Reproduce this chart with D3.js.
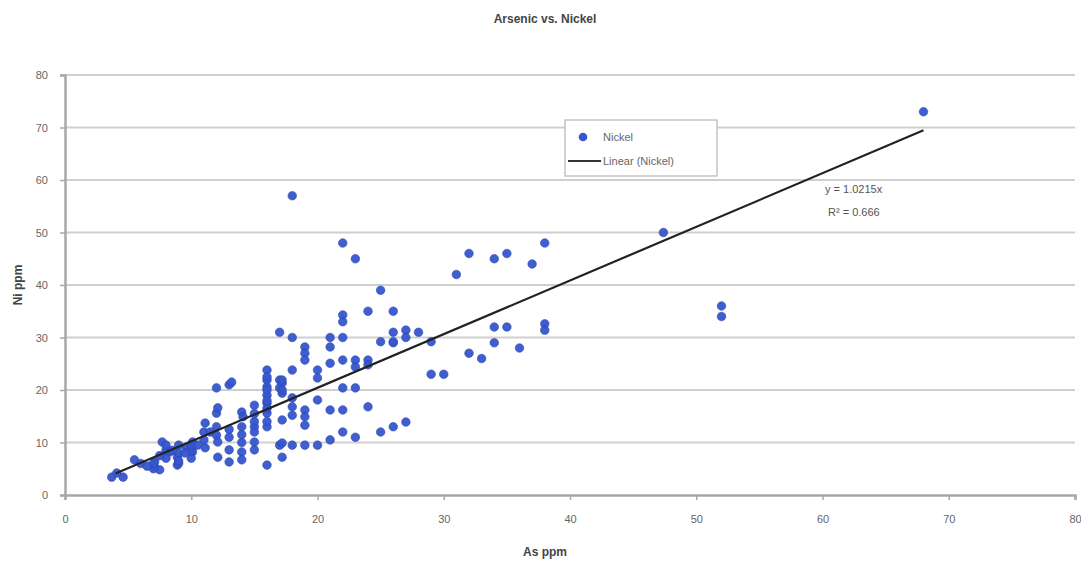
<!DOCTYPE html>
<html>
<head>
<meta charset="utf-8">
<script src="https://cdn.jsdelivr.net/npm/d3@7"></script>
<style>
  body { margin: 0; background: #fff; }
  text { font-family: "Liberation Sans", Arial, sans-serif; }
</style>
</head>
<body>
<div id="canvas"></div>
<script>
// chart size and margins
var margin = { top: 75, right: 6, bottom: 68, left: 65 },
  width = 1081 - margin.left - margin.right,
  height = 563 - margin.top - margin.bottom;

// data: As ppm (x) and Ni ppm (y)
var asPpm = [
  68, 18, 22, 23, 47.4, 32, 34, 35, 38, 37, 31, 25, 52, 52, 38, 38, 36, 34, 35, 34,
  32, 33, 29, 30, 26, 24, 26, 22, 22, 17, 18, 19, 19, 19, 21, 21, 22, 25, 26, 26,
  27, 28, 27, 29, 22, 23, 24, 23, 24, 18, 20, 20, 21, 17, 17, 18, 18, 18, 19, 19,
  19, 20, 22, 23, 21, 22, 24, 22, 23, 25, 26, 27, 21, 17, 18, 19, 20,
  3.7, 4.6, 4.1, 5.5, 7.1, 7.5, 7.1, 7.7, 8.3, 8.9, 8.9, 9.6, 10.1, 10.1, 11.1, 11.1,
  12, 12.1, 12, 13, 13.2, 12, 12.1, 12.1, 13, 13, 14, 14, 14.1, 15, 15, 15, 15, 14, 14,
  16, 16, 16, 16, 16, 16, 17.2, 17.2, 17.2, 17.2, 17.2, 16, 16, 16, 17.2, 17.2,
  7, 7, 8, 8, 8, 9, 9, 9, 10, 10, 10, 11, 11, 12, 13, 13, 14, 14, 15, 15, 15, 16, 16, 16, 16,
  6, 7.5, 8.5, 9.5, 10.5, 6.5, 9, 11.5
];
var niPpm = [
  73, 57, 48, 45, 50, 46, 45, 46, 48, 44, 42, 39, 36, 34, 32.6, 31.4, 28, 32, 32, 29,
  27, 26, 23, 23, 35, 35, 29, 34.3, 33, 31, 30, 28.2, 27, 25.7, 30, 28.2, 30, 29.2, 31, 29.2,
  31.4, 31, 30, 29.2, 25.7, 25.7, 25.7, 24.4, 24.8, 23.8, 23.8, 22.3, 25.1, 21.9, 20.4,
  18.5, 16.8, 15.2, 16.2, 14.9, 13.3, 18.1, 20.4, 20.4, 16.2, 16.2, 16.8, 12, 11, 12, 13,
  13.9, 10.5, 9.5, 9.5, 9.5, 9.5,
  3.4, 3.4, 4.2, 6.7, 5.3, 4.8, 6.3, 10.1, 8.2, 7.2, 5.7, 9.1, 10.1, 8.2, 13.7, 9,
  15.6, 16.6, 20.4, 21, 21.5, 11.4, 10.1, 7.2, 6.3, 8.6, 15.8, 13, 14.9, 17.1, 13, 10.1, 8.6, 8.2, 6.7,
  20.6, 19, 17.5, 15.6, 13, 5.7, 21.3, 19.4, 14.3, 9.9, 7.2, 23.8, 21.9, 20, 21.9, 20,
  5, 6, 7, 8.5, 9.5, 6, 8, 9.5, 7, 8.5, 9.5, 10.5, 12, 13, 11, 12.5, 10, 11.5, 12, 14, 15.5, 14, 16.5, 18, 22.5,
  6, 7.5, 8.5, 8, 9.5, 5.5, 6.5, 12
];

// trendline (linear through origin) as shown in the chart
var trendSlope = 1.0215;
var trendX = [4, 68];
var eqLabels = ["y = 1.0215x", "R\u00b2 = 0.666"];

// axis ticks
var xTicks = [0, 10, 20, 30, 40, 50, 60, 70, 80];
var yTicks = [0, 10, 20, 30, 40, 50, 60, 70, 80];

var points = asPpm.map((d, i) => ({ x: d, y: niPpm[i] }));

var svgRoot = d3
  .select("#canvas")
  .append("svg")
  .attr("width", 1081)
  .attr("height", 563);

var svg = svgRoot
  .append("g")
  .attr("transform", "translate(" + margin.left + "," + margin.top + ")");

var xScale = d3.scaleLinear().domain([0, 80]).range([0, width]);
var yScale = d3.scaleLinear().domain([0, 80]).range([height, 0]);

// horizontal grid lines
svg
  .append("g")
  .selectAll("line")
  .data(yTicks.slice(1))
  .enter()
  .append("line")
  .attr("x1", 0)
  .attr("x2", width)
  .attr("y1", (d) => yScale(d))
  .attr("y2", (d) => yScale(d))
  .attr("stroke", "#cfcfcf")
  .attr("stroke-width", 2);

// x-axis
var x_axis = d3.axisBottom(xScale).tickValues(xTicks).tickSize(5).tickPadding(15);
var gx = svg
  .append("g")
  .attr("transform", "translate(0," + height + ")")
  .call(x_axis);

// y-axis
var y_axis = d3.axisLeft(yScale).tickValues(yTicks).tickSize(5).tickPadding(12);
var gy = svg.append("g").call(y_axis);

[gx, gy].forEach((g) => {
  g.select(".domain").attr("stroke", "#a8a8a8").attr("stroke-width", 2.5);
  g.selectAll(".tick line").attr("stroke", "#a8a8a8").attr("stroke-width", 1.5);
  g.selectAll(".tick text")
    .attr("fill", "#666")
    .style("font-size", "11px");
});

// points
svg
  .append("g")
  .selectAll("circle")
  .data(points)
  .enter()
  .append("circle")
  .attr("cx", (d) => xScale(d.x))
  .attr("cy", (d) => yScale(d.y))
  .attr("r", 4.3)
  .attr("fill", "#3557cf")
  .attr("stroke", "#2a44a8")
  .attr("stroke-width", 0.6)
  .attr("opacity", 0.95);

// trendline
svg
  .append("line")
  .attr("x1", xScale(trendX[0]))
  .attr("y1", yScale(trendX[0] * trendSlope))
  .attr("x2", xScale(trendX[1]))
  .attr("y2", yScale(trendX[1] * trendSlope))
  .attr("stroke", "#222")
  .attr("stroke-width", 2.2);

// equation
svg
  .selectAll(".eq")
  .data(eqLabels)
  .enter()
  .append("text")
  .attr("class", "eq")
  .attr("x", (d, i) => xScale(60.2) + i * 3)
  .attr("y", (d, i) => yScale(57.5) + i * 23)
  .attr("fill", "#555")
  .style("font-size", "11px")
  .text((d) => d);

// legend
var legend = svgRoot.append("g").attr("transform", "translate(565,120)");
legend
  .append("rect")
  .attr("width", 152)
  .attr("height", 56)
  .attr("fill", "#fff")
  .attr("stroke", "#c4c4c4")
  .attr("stroke-width", 1.5);
legend
  .append("circle")
  .attr("cx", 18)
  .attr("cy", 17)
  .attr("r", 4.3)
  .attr("fill", "#3557cf");
legend
  .append("text")
  .attr("x", 38)
  .attr("y", 21)
  .attr("fill", "#666")
  .style("font-size", "11px")
  .text("Nickel");
legend
  .append("line")
  .attr("x1", 3)
  .attr("x2", 36)
  .attr("y1", 41)
  .attr("y2", 41)
  .attr("stroke", "#333")
  .attr("stroke-width", 2);
legend
  .append("text")
  .attr("x", 38)
  .attr("y", 45)
  .attr("fill", "#666")
  .style("font-size", "11px")
  .text("Linear (Nickel)");

// title and axis labels
svgRoot
  .append("text")
  .attr("x", 545)
  .attr("y", 23)
  .attr("text-anchor", "middle")
  .attr("fill", "#444")
  .style("font-size", "12px")
  .style("font-weight", "bold")
  .text("Arsenic vs. Nickel");

svgRoot
  .append("text")
  .attr("x", 545)
  .attr("y", 556)
  .attr("text-anchor", "middle")
  .attr("fill", "#444")
  .style("font-size", "12px")
  .style("font-weight", "bold")
  .text("As ppm");

svgRoot
  .append("text")
  .attr("transform", "translate(22,285) rotate(-90)")
  .attr("text-anchor", "middle")
  .attr("fill", "#444")
  .style("font-size", "12px")
  .style("font-weight", "bold")
  .text("Ni ppm");
</script>
</body>
</html>
